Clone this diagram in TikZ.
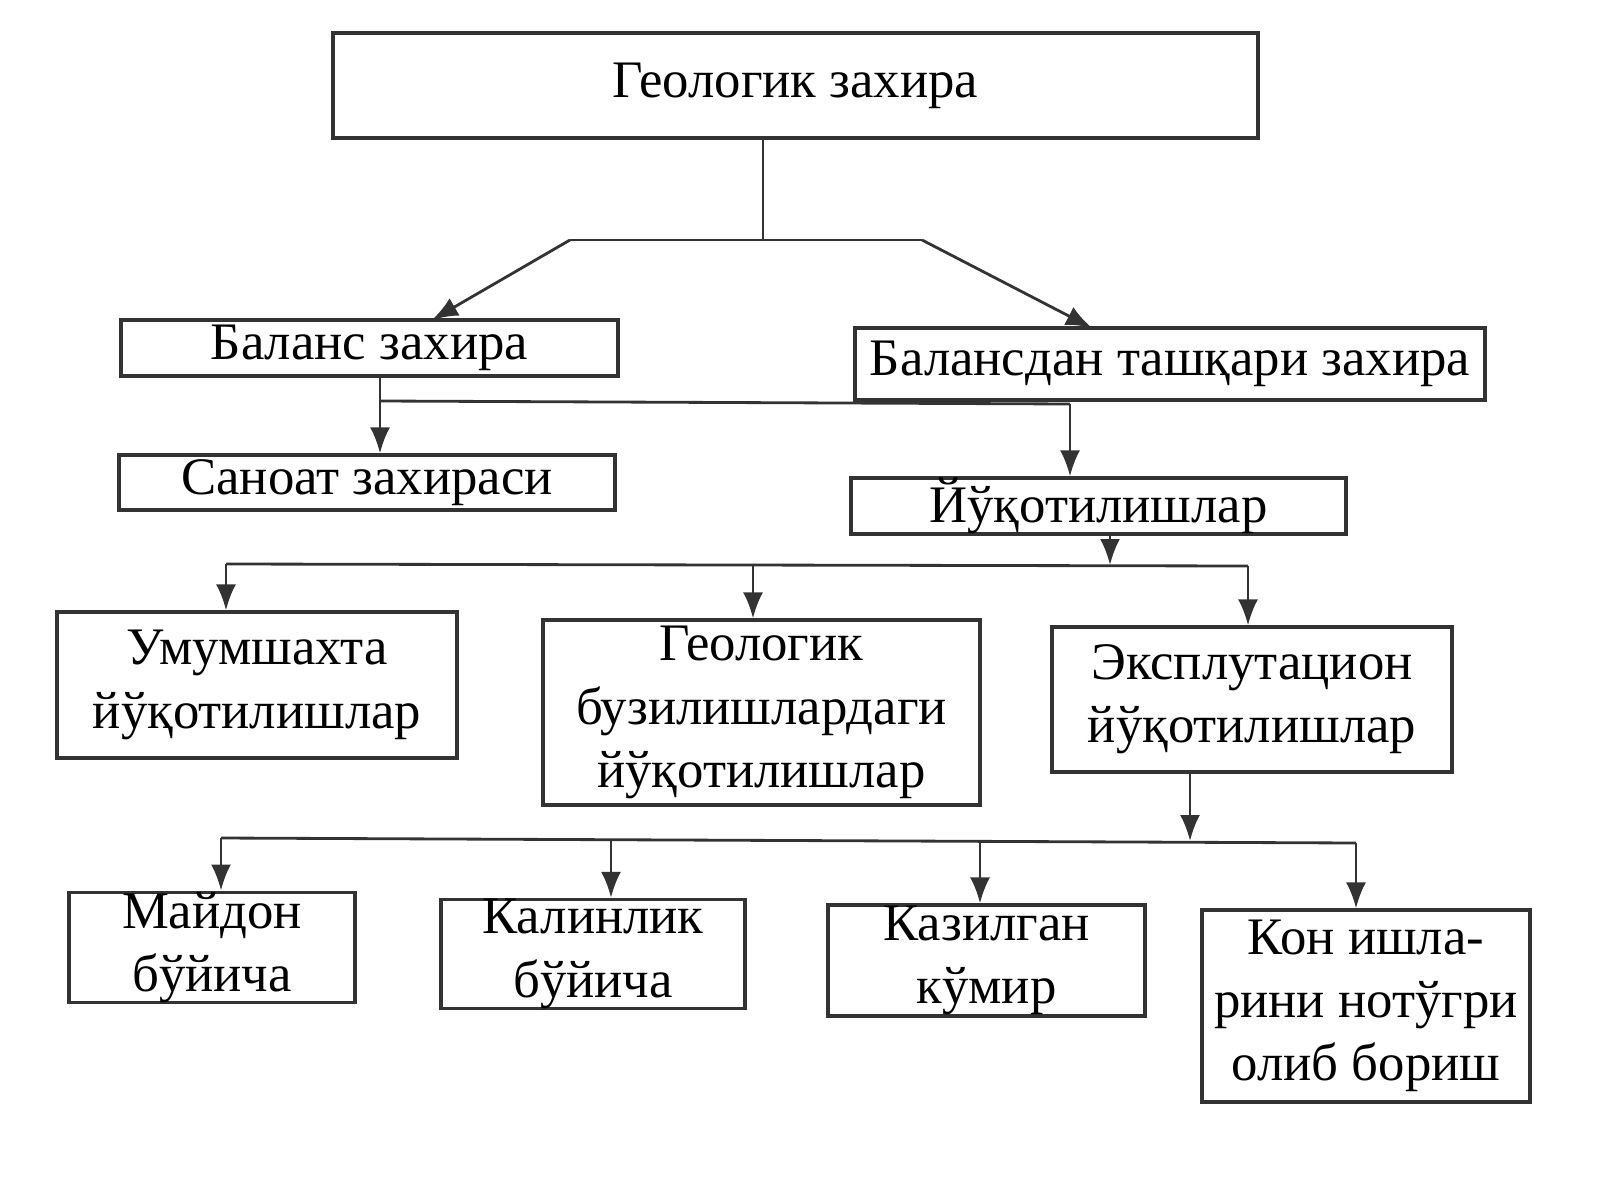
\documentclass[tikz,border=0pt]{standalone}
\usepackage{fontspec}
\setmainfont{Liberation Serif}
\usetikzlibrary{arrows.meta}
\begin{document}
\begin{tikzpicture}[
  box/.style={draw=black!80, line width=0.9pt, inner sep=0pt, align=center, font=\fontsize{15}{18}\selectfont},
  con/.style={draw=black!80, line width=0.8pt},
  arr/.style={con, -{Latex[length=2.6mm,width=2mm]}}]
\useasboundingbox (0,0) rectangle (16,12);
\node[box, minimum width=9.25cm, minimum height=1.05cm] (top) at (7.955,11.145) {Геологик захира};
\node[box, minimum width=4.97cm, minimum height=0.56cm] (bal) at (3.695,8.52) {Баланс захира};
\node[box, minimum width=6.30cm, minimum height=0.72cm] (nbal) at (11.70,8.36) {Балансдан ташқари захира};
\node[box, minimum width=4.96cm, minimum height=0.55cm] (san) at (3.67,7.175) {Саноат захираси};
\node[box, minimum width=4.95cm, minimum height=0.56cm] (loss) at (10.985,6.94) {Йўқотилишлар};
\node[box, minimum width=4.0cm, minimum height=1.46cm] (umum) at (2.57,5.15) {Умумшахта\\йўқотилишлар};
\node[box, minimum width=4.37cm, minimum height=1.85cm] (geol) at (7.615,4.875) {Геологик\\бузилишлардаги\\йўқотилишлар};
\node[box, minimum width=4.0cm, minimum height=1.45cm] (eksp) at (12.52,5.005) {Эксплутацион\\йўқотилишлар};
\node[box, minimum width=2.86cm, minimum height=1.05cm] (may) at (2.12,2.525) {Майдон\\бўйича};
\node[box, minimum width=3.04cm, minimum height=1.08cm] (kal) at (5.93,2.46) {Калинлик\\бўйича};
\node[box, minimum width=3.17cm, minimum height=1.11cm] (kaz) at (9.865,2.395) {Казилган\\кўмир};
\node[box, minimum width=3.28cm, minimum height=1.92cm] (kon) at (13.66,1.94) {Кон ишла-\\рини нотўгри\\олиб бориш};
% level 1
\coordinate (j1) at (7.63,9.60);
\coordinate (j1l) at (5.70,9.60);
\coordinate (j1r) at (9.22,9.60);
\draw[con] (top.south -| j1) -- (j1);
\draw[con] (j1l) -- (j1r);
\draw[arr] (j1l) -- (4.32,8.80);
\draw[arr] (j1r) -- (10.92,8.72);
% level 2
\coordinate (j2) at (3.80,7.99);
\coordinate (j2r) at (10.70,7.96);
\draw[arr] (bal.south -| j2) -- (san.north -| j2);
\draw[con] (j2) -- (j2r);
\draw[arr] (j2r) -- (loss.north -| j2r);
% level 3
\coordinate (j3) at (11.10,6.35);
\coordinate (j3l) at (2.26,6.36);
\coordinate (j3r) at (12.48,6.34);
\draw[arr] (loss.south -| j3) -- (j3);
\draw[con] (j3l) -- (j3r);
\draw[arr] (j3l) -- (umum.north -| j3l);
\draw[arr] (7.53,6.35) -- (geol.north -| 7.53,0);
\draw[arr] (j3r) -- (eksp.north -| j3r);
% level 4
\coordinate (j4) at (11.90,3.59);
\coordinate (j4l) at (2.21,3.62);
\coordinate (j4r) at (13.56,3.57);
\draw[arr] (eksp.south -| j4) -- (j4);
\draw[con] (j4l) -- (j4r);
\draw[arr] (j4l) -- (may.north -| j4l);
\draw[arr] (6.11,3.61) -- (kal.north -| 6.11,0);
\draw[arr] (9.80,3.60) -- (kaz.north -| 9.80,0);
\draw[arr] (j4r) -- (kon.north -| j4r);
\end{tikzpicture}
\end{document}
